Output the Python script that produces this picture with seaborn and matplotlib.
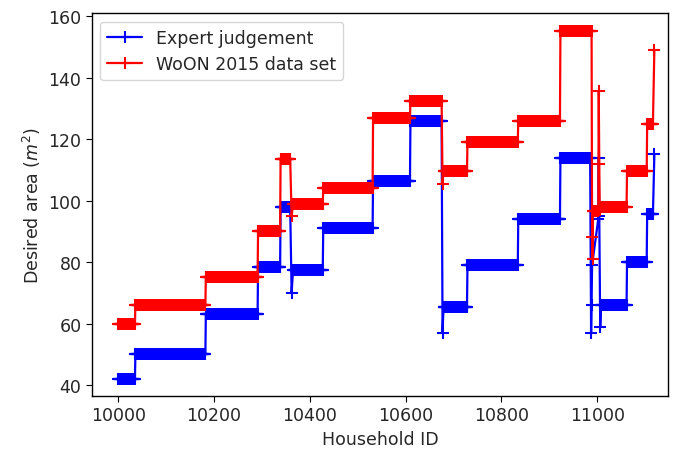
import numpy as np
import pandas as pd
import matplotlib
matplotlib.use("Agg")
import matplotlib.pyplot as plt
import seaborn as sns

# ---- Data (plateaus: first ID, last ID, desired area) ----
expert_start = [10000, 10036, 10183, 10292, 10339, 10362, 10365, 10428, 10532, 10610,
                10677, 10679, 10729, 10835, 10923,
                10987, 10988, 10989, 11002, 11003, 11004, 11006,
                11008, 11062, 11104, 11119]
expert_end = [10035, 10182, 10291, 10338, 10359, 10362, 10427, 10531, 10609, 10675,
              10677, 10728, 10834, 10922, 10985,
              10987, 10988, 10989, 11002, 11003, 11004, 11006,
              11061, 11103, 11116, 11119]
expert_value = [42, 50, 63, 78.5, 98, 70, 77.5, 91, 106.5, 126,
                57, 65.5, 79, 94, 114,
                57, 66, 79, 94, 114, 95, 59,
                66, 80, 95.5, 115]

woon_start = [10000, 10036, 10183, 10292, 10339, 10362, 10365, 10428, 10532, 10610,
              10677, 10679, 10729, 10835, 10923,
              10989, 10990, 10991, 11003, 11004, 11005,
              11008, 11062, 11104, 11119]
woon_end = [10035, 10182, 10291, 10338, 10359, 10362, 10427, 10531, 10609, 10675,
            10677, 10728, 10834, 10922, 10988,
            10989, 10990, 11002, 11003, 11004, 11005,
            11061, 11103, 11116, 11119]
woon_value = [60, 66, 75, 90, 113.5, 95, 99, 104, 127, 132.5,
              105.5, 109.5, 119, 126, 155,
              88, 81, 96.5, 135.5, 112, 97,
              98, 109.5, 125, 149]

series_names = ["Expert judgement", "WoON 2015 data set"]
series_colors = ["blue", "red"]

x_ticks = [10000, 10200, 10400, 10600, 10800, 11000]
y_ticks = [40, 60, 80, 100, 120, 140, 160]


def expand(starts, ends, values):
    xs, ys = [], []
    for s, e, v in zip(starts, ends, values):
        ids = list(range(s, e + 1))
        xs.extend(ids)
        ys.extend([v] * len(ids))
    return xs, ys


ex_x, ex_y = expand(expert_start, expert_end, expert_value)
wo_x, wo_y = expand(woon_start, woon_end, woon_value)
df = pd.concat([
    pd.DataFrame({"Household ID": ex_x, "area": ex_y, "series": series_names[0]}),
    pd.DataFrame({"Household ID": wo_x, "area": wo_y, "series": series_names[1]}),
], ignore_index=True)

# ---- Plot ----
sns.set_style("ticks")
plt.rcParams["font.family"] = ["DejaVu Sans"]
fs = 12.5

fig, ax = plt.subplots(figsize=(6.75, 4.52), dpi=100)
fig.subplots_adjust(left=0.136, right=0.99, top=0.969, bottom=0.122)

for name, color in zip(series_names, series_colors):
    sub = df[df["series"] == name]
    sns.lineplot(data=sub, x="Household ID", y="area", ax=ax, color=color,
                 label=name, estimator=None, sort=False,
                 marker="+", markersize=9, markeredgewidth=1.5,
                 markeredgecolor=color, linewidth=1.6)

ax.set_xlim(9945, 11148)
ax.set_ylim(36.5, 161)
ax.set_xticks(x_ticks)
ax.set_yticks(y_ticks)
ax.tick_params(labelsize=fs, direction="out", length=4, color="black")
for sp in ax.spines.values():
    sp.set_color("black")
    sp.set_linewidth(1.0)
ax.set_xlabel("Household ID", fontsize=fs)
ax.set_ylabel(r"Desired area ($m^2$)", fontsize=fs)
ax.legend(loc="upper left", fontsize=fs, frameon=True)

fig.savefig("out.png", dpi=100)
